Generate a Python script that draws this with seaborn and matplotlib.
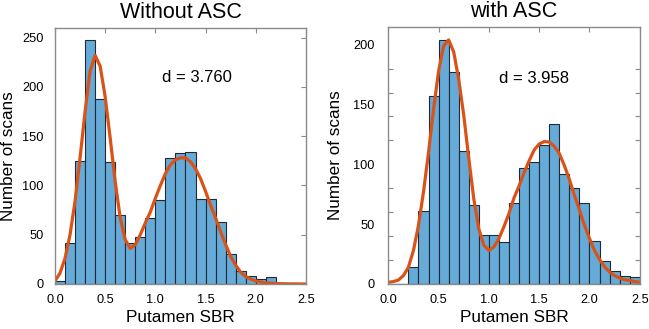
import numpy as np
import matplotlib
matplotlib.use("Agg")
import matplotlib.pyplot as plt
import seaborn as sns

# bin counts, bins of width 0.1 from 0.0 to 2.5
bin_centers = np.round(np.arange(0.05, 2.5, 0.1), 2)
counts_without = [3, 42, 125, 248, 188, 124, 70, 42, 48, 67, 85, 128, 133,
                  134, 86, 86, 63, 30, 13, 8.5, 5, 7, 0, 0, 0]
counts_with = [0, 0, 14, 61, 157, 204, 177, 111, 66, 41, 41, 35, 68,
               97, 102, 116, 134, 92, 80, 68, 36, 19, 11, 7, 6]

# fitted curves, every 0.05
curve_x = np.round(np.linspace(0, 2.5, 51), 2)
curve_without = [3, 11, 26, 50, 84, 128, 175, 216, 232, 221, 190, 148, 104, 67,
                 45, 36, 40, 50, 62, 73, 87, 100, 112, 121, 126, 128, 128, 124,
                 117, 107, 94, 80, 67, 53, 40, 28, 19, 12, 7.5, 5, 3, 2, 1.2,
                 0.8, 0.5, 0.3, 0.2, 0.1, 0.1, 0, 0]
curve_with = [1.4, 2, 3.3, 7, 14, 28, 49, 77, 110, 146, 178, 199, 204, 194, 171,
              141, 105, 71, 46, 32.5, 28, 31, 38, 48, 59, 72, 82, 93, 103, 112,
              117, 119, 118.6, 115, 109, 99, 87.5, 74, 62, 49, 38, 28, 20.5,
              14.4, 10, 7, 5, 3.5, 3, 2, 1.5]

titles = ["Without ASC", "with ASC"]
d_labels = ["d = 3.760", "d = 3.958"]

sns.set_theme(style="white")
plt.rcParams["font.family"] = ["Liberation Sans", "DejaVu Sans"]
plt.rcParams["text.color"] = "black"
plt.rcParams["axes.labelcolor"] = "black"

bar_color = "#66AAD7"
line_color = "#D95319"
frame_color = "#8a8a8a"

fig = plt.figure(figsize=(6.49, 3.29), dpi=100)
ax1 = fig.add_axes([0.0847, 0.1368, 0.3867, 0.779])
ax2 = fig.add_axes([0.5983, 0.1368, 0.3875, 0.782])

panels = [
    (ax1, counts_without, curve_without, 260, (1.07, 205)),
    (ax2, counts_with, curve_with, 215, (1.10, 168)),
]

for i, (ax, counts, curve, ytop, dpos) in enumerate(panels):
    sns.histplot(x=bin_centers, weights=counts, bins=25, binrange=(0, 2.5),
                 color=bar_color, alpha=1, edgecolor="#1e2a36", linewidth=0.8,
                 ax=ax)
    sns.lineplot(x=curve_x, y=curve, color=line_color, linewidth=2.3, ax=ax)
    ax.set_xlim(0, 2.5)
    ax.set_ylim(0, ytop)
    ax.set_xticks([0, 0.5, 1.0, 1.5, 2.0, 2.5])
    ax.set_xticklabels(["0.0", "0.5", "1.0", "1.5", "2.0", "2.5"])
    ax.set_title(titles[i], fontsize=15.5, pad=7, color="black")
    ax.set_xlabel("Putamen SBR", fontsize=12.3, labelpad=3)
    ax.set_ylabel("Number of scans", fontsize=12.3, labelpad=5 if i == 0 else 7)
    ax.text(dpos[0], dpos[1], d_labels[i], fontsize=12, ha="left", va="baseline")
    for s in ax.spines.values():
        s.set_color(frame_color)
        s.set_linewidth(1)
    ax.tick_params(axis="both", which="both", direction="in", colors=frame_color,
                   labelcolor="black", labelsize=9.2, top=True, right=True,
                   length=3.5, width=0.8)
    ax.tick_params(axis="x", pad=7)

ax1.set_yticks([0, 50, 100, 150, 200, 250])
ax1.tick_params(axis="y", pad=8)

# right panel: labels every 50, tick marks every 20
ax2.set_yticks([0, 50, 100, 150, 200])
ax2.set_yticks(list(range(0, 201, 20)), minor=True)
ax2.tick_params(axis="y", which="major", length=0, pad=10)
ax2.tick_params(axis="y", which="minor", left=True, right=True, length=3.5)

fig.savefig("out.png", dpi=100)
